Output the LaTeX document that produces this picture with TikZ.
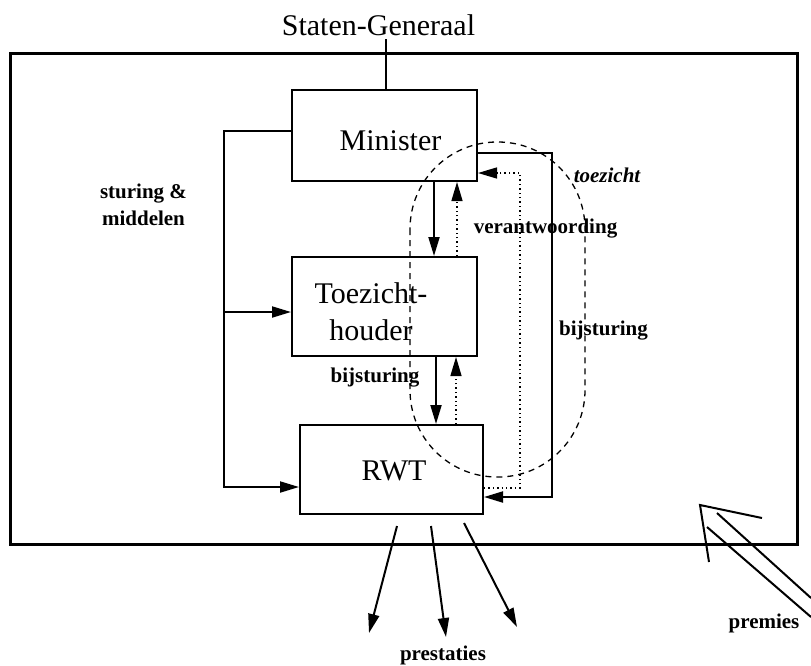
\documentclass[tikz,border=0pt]{standalone}
\usepackage{fontspec}
\setmainfont{Liberation Serif}
\usetikzlibrary{arrows.meta}
\begin{document}
\begin{tikzpicture}[x=1pt,y=-1pt,
  box/.style={draw, line width=2pt, inner sep=0pt},
  big/.style={font=\fontsize{30}{37}\selectfont, inner sep=0pt},
  lab/.style={font=\fontsize{21}{27}\selectfont\bfseries, inner sep=0pt},
  labit/.style={font=\fontsize{21}{27}\selectfont\bfseries\itshape, inner sep=0pt},
  conn/.style={line width=2pt},
  arr/.style={-{Triangle[length=19pt,width=11pt]}},
  dotl/.style={line width=1.4pt, dash pattern=on 1.4pt off 3pt},
  dashl/.style={line width=1.3pt, dash pattern=on 6pt off 5pt},
  frame/.style={line width=3pt}]
\useasboundingbox (0,0) rectangle (811,665);

% outer frame
\draw[frame] (10,53) rectangle (797,544);

% boxes
\node[box, minimum width=185pt, minimum height=91pt] (min) at (384.5,135.5) {};
\node[box, minimum width=185pt, minimum height=99pt] (toez) at (384.5,306.5) {};
\node[box, minimum width=183pt, minimum height=89pt] (rwt) at (391.5,469.5) {};

% texts
\node[big, anchor=base] (sg) at (378.5,35) {Staten-Generaal};
\node[big, anchor=base] (mint) at (390.5,150) {Minister};
\node[big, anchor=base, align=center] (toezt) at (371,340) {Toezicht-\\houder};
\node[big, anchor=base] (rwtt) at (394,480) {RWT};
\node[lab, anchor=base, align=center] (stm) at (143.5,225) {sturing \&\\middelen};
\node[lab, anchor=base] (ver) at (545.5,233) {verantwoording};
\node[labit, anchor=base] (toe) at (607,182) {toezicht};
\node[lab, anchor=base] (bij1) at (603.5,335) {bijsturing};
\node[lab, anchor=base] (bij2) at (375,382) {bijsturing};
\node[lab, anchor=base] (pre) at (443,660) {prestaties};
\node[lab, anchor=base] (prem) at (764,628) {premies};

% dashed toezicht region
\draw[dashl, rounded corners=87pt] (410,142) rectangle (585,477);

% Staten-Generaal to Minister
\coordinate (sgl) at (386,39);
\draw[conn] (sgl) -- (sgl |- min.north);

% sturing & middelen
\coordinate (lb) at (224,312);
\draw[conn,arr] (min.west |- 0,131) -| (224,487) -- (rwt.west |- 0,487);
\draw[conn,arr] (lb) -- (toez.west |- lb);

% vertical arrows
\draw[conn,arr] (min.south -| 434,0) -- (toez.north -| 434,0);
\draw[dotl,arr] (toez.north -| 457,0) -- (min.south -| 457,0);
\draw[conn,arr] (toez.south -| 436,0) -- (rwt.north -| 436,0);
\draw[dotl,arr] (rwt.north -| 456,0) -- (toez.south -| 456,0);

% right loops
\draw[conn,arr] (min.east |- 0,153) -- (552,153) -- (552,497) -- (rwt.east |- 0,497);
\draw[dotl,arr] (rwt.east |- 0,488) -- (520,488) -- (520,173) -- (min.east |- 0,173);

% prestaties
\coordinate (pa1) at (397,526); \coordinate (pb1) at (369,633);
\coordinate (pa2) at (431,526); \coordinate (pb2) at (446,637);
\coordinate (pa3) at (464,523); \coordinate (pb3) at (517,627);
\draw[conn,arr] (pa1) -- (pb1);
\draw[conn,arr] (pa2) -- (pb2);
\draw[conn,arr] (pa3) -- (pb3);

% premies hollow arrow
\draw[conn] (762,518) -- (700,505) -- (709,562);
\draw[conn] (717,513) -- (811,598);
\draw[conn] (707,527) -- (811,617);
\end{tikzpicture}
\end{document}
